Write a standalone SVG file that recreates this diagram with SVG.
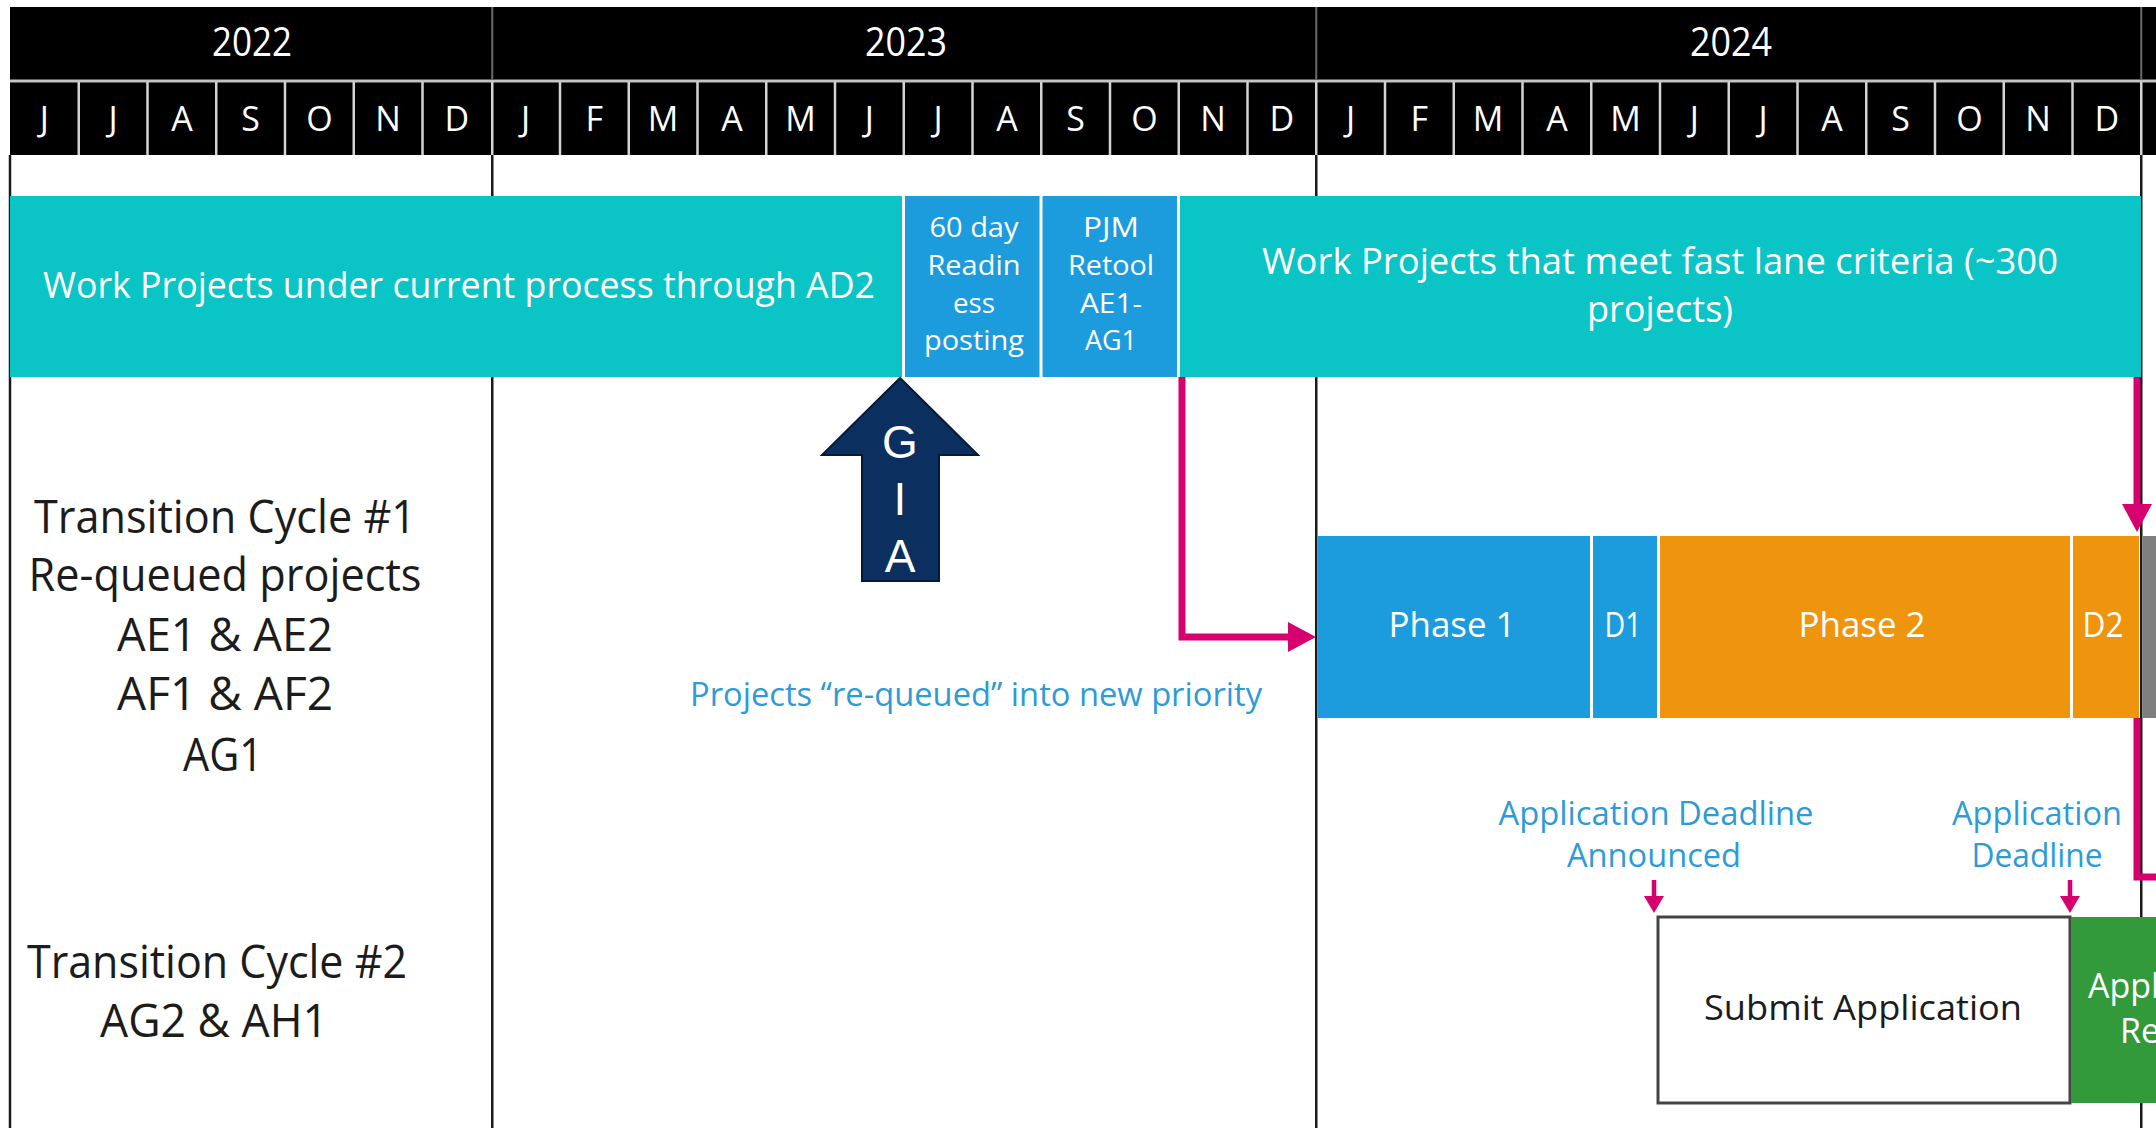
<svg xmlns="http://www.w3.org/2000/svg" width="2156" height="1128" viewBox="0 0 2156 1128">
<style>
.os{font-family:"Open Sans","Noto Sans",sans-serif}
.yr{font-size:40px;fill:#ffffff;text-anchor:middle}
.mo{font-size:34px;fill:#ffffff;text-anchor:middle}
.md{stroke:#d4d4d4;stroke-width:2.5}
.grid{stroke:#1a1a1a;stroke-width:2.5}
.cyan{fill:#0BC4C6}
.blue{fill:#1C9BDD}
.orange{fill:#EF940D}
.lbl{font-size:46px;fill:#1c1c1c;text-anchor:middle}
.bt{font-size:27px;fill:#ffffff;text-anchor:middle}
.ct{font-size:36px;fill:#ffffff;text-anchor:middle}
.pt{font-size:34px;fill:#ffffff;text-anchor:middle}
.cap{font-size:32px;fill:#2F9BD6;text-anchor:middle}
.pink{stroke:#D6006F;fill:none}
</style>
<defs>
<marker id="ph" markerUnits="userSpaceOnUse" markerWidth="30" markerHeight="32" refX="2" refY="16" orient="auto">
<path d="M0,1 L28,16 L0,31 Z" fill="#D6006F"/>
</marker>
<marker id="phs" markerUnits="userSpaceOnUse" markerWidth="18" markerHeight="22" refX="2" refY="11" orient="auto">
<path d="M0,1 L17,11 L0,21 Z" fill="#D6006F"/>
</marker>
</defs>
<rect width="2156" height="1128" fill="#ffffff"/>

<g id="header">
<rect x="10" y="7" width="2146" height="148" fill="#000000"/>
<line x1="10" y1="81" x2="2156" y2="81" stroke="#c4c4c4" stroke-width="3"/>
<g class="md">
<line x1="78.75" y1="82" x2="78.75" y2="155"/><line x1="147.5" y1="82" x2="147.5" y2="155"/><line x1="216.25" y1="82" x2="216.25" y2="155"/><line x1="285" y1="82" x2="285" y2="155"/><line x1="353.75" y1="82" x2="353.75" y2="155"/><line x1="422.5" y1="82" x2="422.5" y2="155"/><line x1="492.25" y1="82" x2="492.25" y2="155"/>
<line x1="560" y1="82" x2="560" y2="155"/><line x1="628.75" y1="82" x2="628.75" y2="155"/><line x1="697.5" y1="82" x2="697.5" y2="155"/><line x1="766.25" y1="82" x2="766.25" y2="155"/><line x1="835" y1="82" x2="835" y2="155"/><line x1="903.75" y1="82" x2="903.75" y2="155"/><line x1="972.5" y1="82" x2="972.5" y2="155"/><line x1="1041.25" y1="82" x2="1041.25" y2="155"/><line x1="1110" y1="82" x2="1110" y2="155"/><line x1="1178.75" y1="82" x2="1178.75" y2="155"/><line x1="1247.5" y1="82" x2="1247.5" y2="155"/><line x1="1316.25" y1="82" x2="1316.25" y2="155"/>
<line x1="1385" y1="82" x2="1385" y2="155"/><line x1="1453.75" y1="82" x2="1453.75" y2="155"/><line x1="1522.5" y1="82" x2="1522.5" y2="155"/><line x1="1591.25" y1="82" x2="1591.25" y2="155"/><line x1="1660" y1="82" x2="1660" y2="155"/><line x1="1728.75" y1="82" x2="1728.75" y2="155"/><line x1="1797.5" y1="82" x2="1797.5" y2="155"/><line x1="1866.25" y1="82" x2="1866.25" y2="155"/><line x1="1935" y1="82" x2="1935" y2="155"/><line x1="2003.75" y1="82" x2="2003.75" y2="155"/><line x1="2072.5" y1="82" x2="2072.5" y2="155"/><line x1="2141.25" y1="82" x2="2141.25" y2="155"/>
</g>
<g stroke="#6a6a6a" stroke-width="2">
<line x1="492.25" y1="7" x2="492.25" y2="80"/><line x1="1316.25" y1="7" x2="1316.25" y2="80"/><line x1="2141.25" y1="7" x2="2141.25" y2="80"/>
</g>
<g class="os">
<text class="yr" x="252" y="56" textLength="80" lengthAdjust="spacingAndGlyphs">2022</text>
<text class="yr" x="906" y="56" textLength="82" lengthAdjust="spacingAndGlyphs">2023</text>
<text class="yr" x="1731" y="56" textLength="82" lengthAdjust="spacingAndGlyphs">2024</text>
<text class="mo" y="131"><tspan x="44.4">J</tspan><tspan x="113.1">J</tspan><tspan x="181.9">A</tspan><tspan x="250.6">S</tspan><tspan x="319.4">O</tspan><tspan x="388.1">N</tspan><tspan x="456.9">D</tspan><tspan x="525.6">J</tspan><tspan x="594.4">F</tspan><tspan x="663.1">M</tspan><tspan x="731.9">A</tspan><tspan x="800.6">M</tspan><tspan x="869.4">J</tspan><tspan x="938.1">J</tspan><tspan x="1006.9">A</tspan><tspan x="1075.6">S</tspan><tspan x="1144.4">O</tspan><tspan x="1213.1">N</tspan><tspan x="1281.9">D</tspan><tspan x="1350.6">J</tspan><tspan x="1419.4">F</tspan><tspan x="1488.1">M</tspan><tspan x="1556.9">A</tspan><tspan x="1625.6">M</tspan><tspan x="1694.4">J</tspan><tspan x="1763.1">J</tspan><tspan x="1831.9">A</tspan><tspan x="1900.6">S</tspan><tspan x="1969.4">O</tspan><tspan x="2038.1">N</tspan><tspan x="2106.9">D</tspan></text>
</g>
</g>

<g id="gridlines" class="grid">
<line x1="10" y1="155" x2="10" y2="1128"/>
<line x1="492.25" y1="155" x2="492.25" y2="1128"/>
<line x1="1316.25" y1="155" x2="1316.25" y2="1128"/>
<line x1="2141.25" y1="155" x2="2141.25" y2="1128"/>
</g>

<g id="current-process">
<rect class="cyan" x="10" y="196" width="892" height="181"/>
<text class="os ct" x="459" y="298" textLength="832" lengthAdjust="spacingAndGlyphs">Work Projects under current process through AD2</text>
</g>
<g id="readiness-posting">
<rect class="blue" x="905" y="196" width="134.5" height="181"/>
<text class="os bt"><tspan x="974" y="237" textLength="89" lengthAdjust="spacingAndGlyphs">60 day</tspan><tspan x="974" y="275" textLength="93" lengthAdjust="spacingAndGlyphs">Readin</tspan><tspan x="974" y="313" textLength="42" lengthAdjust="spacingAndGlyphs">ess</tspan><tspan x="974" y="350" textLength="100" lengthAdjust="spacingAndGlyphs">posting</tspan></text>
</g>
<g id="pjm-retool">
<rect class="blue" x="1042.5" y="196" width="134.5" height="181"/>
<text class="os bt"><tspan x="1111" y="237" textLength="56" lengthAdjust="spacingAndGlyphs">PJM</tspan><tspan x="1111" y="275" textLength="86" lengthAdjust="spacingAndGlyphs">Retool</tspan><tspan x="1111" y="313" textLength="62" lengthAdjust="spacingAndGlyphs">AE1-</tspan><tspan x="1111" y="350" textLength="52" lengthAdjust="spacingAndGlyphs">AG1</tspan></text>
</g>
<g id="fast-lane">
<rect class="cyan" x="1180" y="196" width="961" height="181"/>
<text class="os ct"><tspan x="1660" y="274" textLength="796" lengthAdjust="spacingAndGlyphs">Work Projects that meet fast lane criteria (~300</tspan><tspan x="1660" y="322" textLength="146" lengthAdjust="spacingAndGlyphs">projects)</tspan></text>
</g>

<g id="gia">
<polygon points="900,378 822,455 862,455 862,581 939,581 939,455 978,455" fill="#0B2F5E" stroke="#041a3a" stroke-width="2"/>
<g font-family="'Liberation Sans',Arial,sans-serif" font-size="46" fill="#ffffff" text-anchor="middle">
<text x="900" y="458">G</text><text x="900" y="515">I</text><text x="900" y="572">A</text>
</g>
</g>

<g id="cycle1-label" class="os">
<text class="lbl" x="225" y="533" textLength="382" lengthAdjust="spacingAndGlyphs">Transition Cycle #1</text>
<text class="lbl" x="225" y="591" textLength="393" lengthAdjust="spacingAndGlyphs">Re-queued projects</text>
<text class="lbl" x="225" y="651" textLength="216" lengthAdjust="spacingAndGlyphs">AE1 &amp; AE2</text>
<text class="lbl" x="225" y="710" textLength="216" lengthAdjust="spacingAndGlyphs">AF1 &amp; AF2</text>
<text class="lbl" x="223" y="771" textLength="80" lengthAdjust="spacingAndGlyphs">AG1</text>
</g>
<g id="cycle2-label" class="os">
<text class="lbl" x="217" y="978" textLength="380" lengthAdjust="spacingAndGlyphs">Transition Cycle #2</text>
<text class="lbl" x="214" y="1037" textLength="228" lengthAdjust="spacingAndGlyphs">AG2 &amp; AH1</text>
</g>

<g id="requeue-caption">
<text class="os cap" x="976" y="706" textLength="572" lengthAdjust="spacingAndGlyphs">Projects “re-queued” into new priority</text>
</g>

<g id="phase1">
<rect class="blue" x="1318" y="536" width="272" height="182"/>
<text class="os pt" x="1452" y="637" textLength="127" lengthAdjust="spacingAndGlyphs">Phase 1</text>
</g>
<g id="d1">
<rect class="blue" x="1593" y="536" width="64" height="182"/>
<text class="os pt" x="1623" y="637" textLength="37" lengthAdjust="spacingAndGlyphs">D1</text>
</g>
<g id="phase2">
<rect class="orange" x="1660" y="536" width="410" height="182"/>
<text class="os pt" x="1862" y="637" textLength="127" lengthAdjust="spacingAndGlyphs">Phase 2</text>
</g>
<g id="d2">
<rect class="orange" x="2073" y="536" width="66" height="182"/>
<text class="os pt" x="2103" y="637" textLength="41" lengthAdjust="spacingAndGlyphs">D2</text>
</g>
<g id="next-phase">
<rect x="2143" y="536" width="20" height="182" fill="#7F7F7F"/>
</g>

<g id="deadline-announced" class="os">
<text class="cap" x="1656" y="825" textLength="315" lengthAdjust="spacingAndGlyphs">Application Deadline</text>
<text class="cap" x="1654" y="867" textLength="174" lengthAdjust="spacingAndGlyphs">Announced</text>
</g>
<g id="deadline" class="os">
<text class="cap" x="2037" y="825" textLength="170" lengthAdjust="spacingAndGlyphs">Application</text>
<text class="cap" x="2037" y="867" textLength="131" lengthAdjust="spacingAndGlyphs">Deadline</text>
</g>

<g id="submit-application">
<rect x="1658" y="917" width="412" height="186" fill="#ffffff" stroke="#444444" stroke-width="3"/>
<text class="os" x="1863" y="1020" font-size="35" fill="#1c1c1c" text-anchor="middle" textLength="318" lengthAdjust="spacingAndGlyphs">Submit Application</text>
</g>
<g id="application-review">
<rect x="2071" y="917" width="90" height="186" fill="#339A3C"/>
<text class="os" font-size="34" fill="#ffffff"><tspan x="2088" y="998">Appl</tspan><tspan x="2120" y="1043">Re</tspan></text>
</g>

<g id="connectors">
<path class="pink" d="M1182,377 V637 H1290" stroke-width="7" marker-end="url(#ph)"/>
<path class="pink" d="M2137,377 V506" stroke-width="7" marker-end="url(#ph)"/>
<path class="pink" d="M2137,718 V877 H2160" stroke-width="7"/>
<path class="pink" d="M1654,880 V898" stroke-width="4.5" marker-end="url(#phs)"/>
<path class="pink" d="M2070,880 V898" stroke-width="4.5" marker-end="url(#phs)"/>
</g>
</svg>
